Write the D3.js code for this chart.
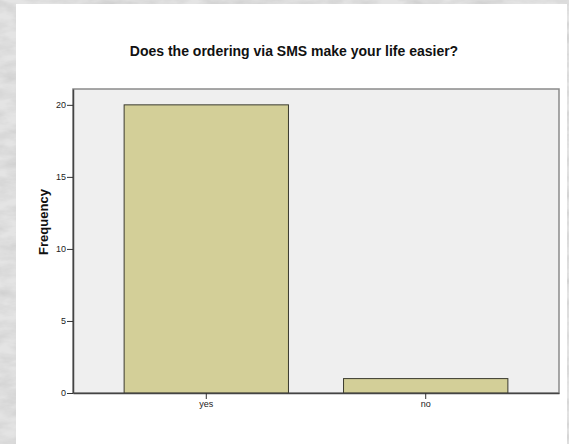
<!DOCTYPE html>
<html>
<head>
<meta charset="utf-8">
<script src="https://cdn.jsdelivr.net/npm/d3@7"></script>
<style>
  html, body { margin: 0; padding: 0; background: #d8d8d8; }
  svg { display: block; font-family: "Liberation Sans", Arial, sans-serif; }
</style>
</head>
<body>
<div id="chart"></div>
<script>
const title = 'Does the ordering via SMS make your life easier?'
const categories = ['yes', 'no']
const frequency = [20, 1]
const yTicks = [0, 5, 10, 15, 20]

const W = 569, H = 444
const plot = { left: 73, top: 89, right: 559, bottom: 393 }

const svg = d3.select('#chart').append('svg')
  .attr('width', W)
  .attr('height', H)

// marble-ish backdrop
const defs = svg.append('defs')
const filt = defs.append('filter').attr('id', 'marble')
  .attr('x', 0).attr('y', 0).attr('width', '100%').attr('height', '100%')
filt.append('feTurbulence')
  .attr('type', 'fractalNoise')
  .attr('baseFrequency', '0.035 0.09')
  .attr('numOctaves', 4)
  .attr('seed', 7)
filt.append('feColorMatrix')
  .attr('type', 'matrix')
  .attr('values', '0 0 0 0 0.55  0 0 0 0 0.55  0 0 0 0 0.55  0 0 0 -1.1 0.75')

svg.append('rect').attr('width', W).attr('height', H).attr('fill', '#e4e4e4')
svg.append('rect').attr('width', W).attr('height', H).attr('filter', 'url(#marble)')

// white panel
svg.append('rect')
  .attr('x', 16).attr('y', 4)
  .attr('width', 551).attr('height', H - 4)
  .attr('fill', '#fff')

svg.append('text')
  .attr('x', 294)
  .attr('y', 56)
  .attr('text-anchor', 'middle')
  .style('font-size', '14px')
  .style('font-weight', 'bold')
  .attr('fill', '#111')
  .text(title)

const x = d3.scaleBand()
  .domain(categories)
  .range([plot.left, plot.right])
  .paddingInner(0.251)
  .paddingOuter(0.233)

const y = d3.scaleLinear()
  .domain([0, 21.1])
  .range([plot.bottom, plot.top])

// plot background + frame
svg.append('rect')
  .attr('x', plot.left).attr('y', plot.top)
  .attr('width', plot.right - plot.left)
  .attr('height', plot.bottom - plot.top)
  .attr('fill', '#efefef')
  .attr('stroke', '#8a8a8a')
  .attr('stroke-width', 1.5)

svg.selectAll('.bar')
  .data(categories)
  .enter()
  .append('rect')
  .classed('bar', true)
  .attr('x', d => x(d))
  .attr('y', (d, i) => y(frequency[i]))
  .attr('width', x.bandwidth())
  .attr('height', (d, i) => y(0) - y(frequency[i]))
  .attr('fill', '#d3cf98')
  .attr('stroke', '#3a3a2e')
  .attr('stroke-width', 1)

const yAxis = svg.append('g')
  .attr('transform', `translate(${plot.left},0)`)
  .call(d3.axisLeft(y).tickValues(yTicks).tickSize(6).tickSizeOuter(0).tickPadding(1))
yAxis.select('.domain').attr('stroke', '#444').attr('stroke-width', 1.5)
yAxis.selectAll('.tick line').attr('stroke', '#333')
yAxis.selectAll('.tick text').attr('fill', '#222').style('font-size', '9px')

const xAxis = svg.append('g')
  .attr('transform', `translate(0,${plot.bottom})`)
  .call(d3.axisBottom(x).tickSize(6).tickPadding(2).tickSizeOuter(0))
xAxis.select('.domain').attr('stroke', '#444').attr('stroke-width', 1.5)
xAxis.selectAll('.tick line').attr('stroke', '#333')
xAxis.selectAll('.tick text').attr('fill', '#222').style('font-size', '9px')

svg.append('text')
  .attr('transform', 'translate(48,222) rotate(-90)')
  .attr('text-anchor', 'middle')
  .style('font-size', '13px')
  .style('font-weight', 'bold')
  .attr('fill', '#111')
  .text('Frequency')
</script>
</body>
</html>
